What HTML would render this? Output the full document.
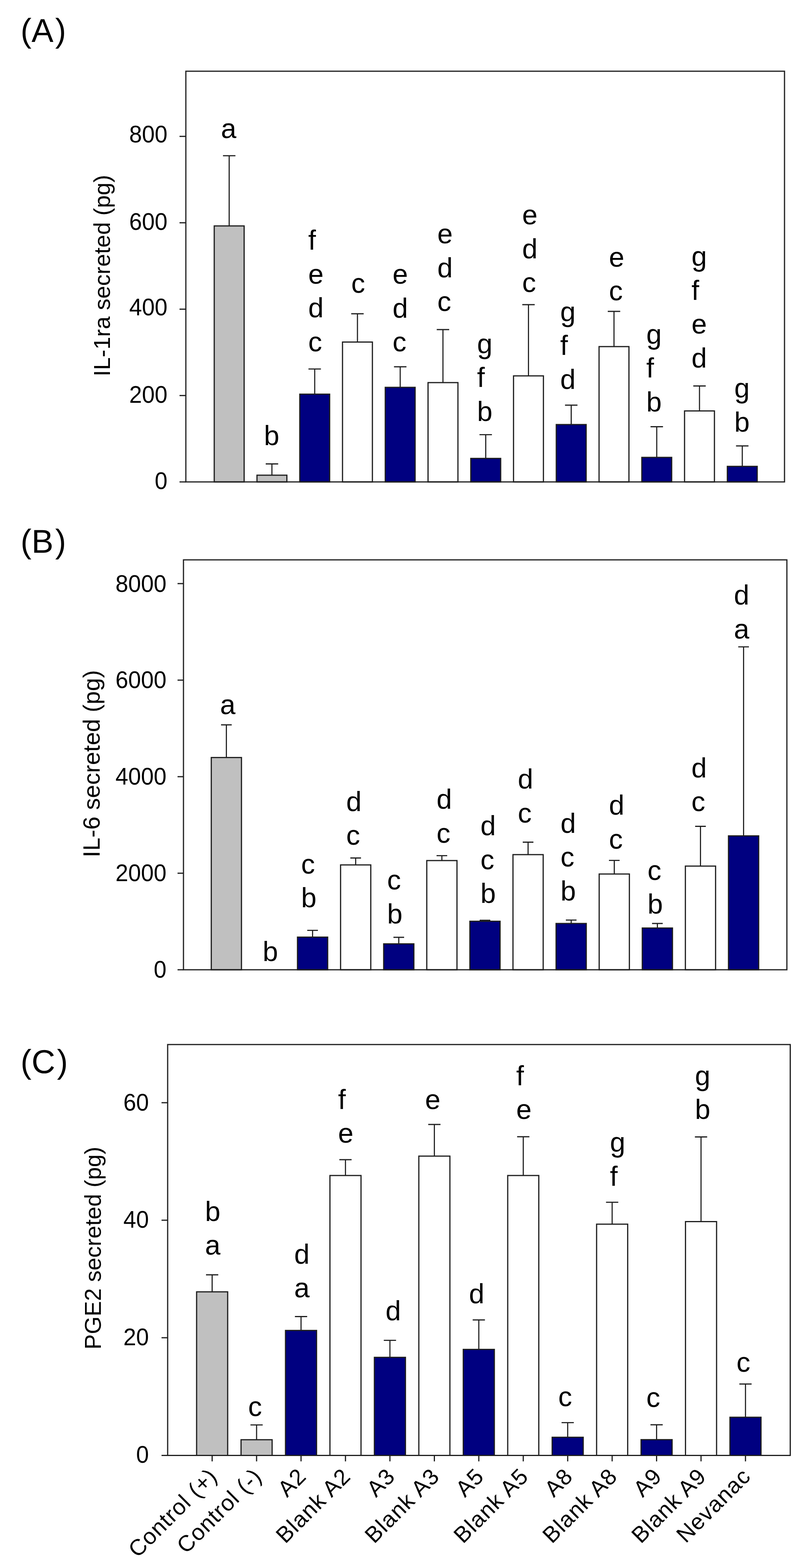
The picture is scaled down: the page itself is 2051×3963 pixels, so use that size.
<!DOCTYPE html>
<html><head><meta charset="utf-8"><title>Figure</title><style>
html,body{margin:0;padding:0;background:#fff;}
svg{display:block;}
text{font-family:"Liberation Sans",Arial,Helvetica,sans-serif;fill:#000;}
.l{font-size:70px;}
.t{font-size:58px;text-anchor:end;}
.yt{font-size:58px;}
.p{font-size:83px;}
.x{font-size:57px;text-anchor:end;letter-spacing:1.7px;}
</style></head><body>
<svg width="2051" height="3963" viewBox="0 0 2051 3963">
<rect width="2051" height="3963" fill="#fff"/>
<rect x="541.8" y="571" width="75.6" height="647" fill="#c0c0c0" stroke="#1e1e1e" stroke-width="3"/>
<path d="M579.6 571V393.6M563.9 393.6H595.4" stroke="#1e1e1e" stroke-width="2.8" fill="none"/>
<text x="558.8" y="348.5" class="l">a</text>
<rect x="649.9" y="1201" width="75.6" height="17" fill="#c0c0c0" stroke="#1e1e1e" stroke-width="3"/>
<path d="M687.7 1201V1172.5M672 1172.5H703.5" stroke="#1e1e1e" stroke-width="2.8" fill="none"/>
<text x="667.4" y="1124.5" class="l">b</text>
<rect x="758.1" y="996.2" width="75.6" height="221.8" fill="#000080" stroke="#1e1e1e" stroke-width="3"/>
<path d="M795.9 996.2V932.6M780.1 932.6H811.6" stroke="#1e1e1e" stroke-width="2.8" fill="none"/>
<text x="779.4" y="631.2" class="l">f</text>
<text x="779.4" y="716.7" class="l">e</text>
<text x="779.4" y="802.2" class="l">d</text>
<text x="779.4" y="887.7" class="l">c</text>
<rect x="866.2" y="864.5" width="75.6" height="353.5" fill="#ffffff" stroke="#1e1e1e" stroke-width="3"/>
<path d="M904 864.5V793M888.2 793H919.7" stroke="#1e1e1e" stroke-width="2.8" fill="none"/>
<text x="888.2" y="739.7" class="l">c</text>
<rect x="974.3" y="979" width="75.6" height="239" fill="#000080" stroke="#1e1e1e" stroke-width="3"/>
<path d="M1012.1 979V927M996.4 927H1027.9" stroke="#1e1e1e" stroke-width="2.8" fill="none"/>
<text x="992.7" y="717.2" class="l">e</text>
<text x="992.7" y="802.7" class="l">d</text>
<text x="992.7" y="888.2" class="l">c</text>
<rect x="1082.5" y="967" width="75.6" height="251" fill="#ffffff" stroke="#1e1e1e" stroke-width="3"/>
<path d="M1120.2 967V833M1104.5 833H1136" stroke="#1e1e1e" stroke-width="2.8" fill="none"/>
<text x="1106" y="615.2" class="l">e</text>
<text x="1106" y="700.7" class="l">d</text>
<text x="1106" y="786.2" class="l">c</text>
<rect x="1190.6" y="1158.6" width="75.6" height="59.4" fill="#000080" stroke="#1e1e1e" stroke-width="3"/>
<path d="M1228.4 1158.6V1098.6M1212.6 1098.6H1244.1" stroke="#1e1e1e" stroke-width="2.8" fill="none"/>
<text x="1206.5" y="892.7" class="l">g</text>
<text x="1206.5" y="978.2" class="l">f</text>
<text x="1206.5" y="1063.7" class="l">b</text>
<rect x="1298.7" y="950" width="75.6" height="268" fill="#ffffff" stroke="#1e1e1e" stroke-width="3"/>
<path d="M1336.5 950V770M1320.8 770H1352.3" stroke="#1e1e1e" stroke-width="2.8" fill="none"/>
<text x="1320.6" y="567.2" class="l">e</text>
<text x="1320.6" y="652.7" class="l">d</text>
<text x="1320.6" y="738.2" class="l">c</text>
<rect x="1406.8" y="1073" width="75.6" height="145" fill="#000080" stroke="#1e1e1e" stroke-width="3"/>
<path d="M1444.6 1073V1024M1428.9 1024H1460.4" stroke="#1e1e1e" stroke-width="2.8" fill="none"/>
<text x="1416.7" y="811.7" class="l">g</text>
<text x="1416.7" y="897.2" class="l">f</text>
<text x="1416.7" y="982.7" class="l">d</text>
<rect x="1515" y="876" width="75.6" height="342" fill="#ffffff" stroke="#1e1e1e" stroke-width="3"/>
<path d="M1552.8 876V787M1537 787H1568.5" stroke="#1e1e1e" stroke-width="2.8" fill="none"/>
<text x="1540" y="673.7" class="l">e</text>
<text x="1540" y="759.2" class="l">c</text>
<rect x="1623.1" y="1156" width="75.6" height="62" fill="#000080" stroke="#1e1e1e" stroke-width="3"/>
<path d="M1660.9 1156V1078.5M1645.2 1078.5H1676.7" stroke="#1e1e1e" stroke-width="2.8" fill="none"/>
<text x="1634.6" y="868.7" class="l">g</text>
<text x="1634.6" y="954.2" class="l">f</text>
<text x="1634.6" y="1039.7" class="l">b</text>
<rect x="1731.2" y="1038.6" width="75.6" height="179.4" fill="#ffffff" stroke="#1e1e1e" stroke-width="3"/>
<path d="M1769 1038.6V975.5M1753.3 975.5H1784.8" stroke="#1e1e1e" stroke-width="2.8" fill="none"/>
<text x="1748.7" y="672.2" class="l">g</text>
<text x="1748.7" y="757.7" class="l">f</text>
<text x="1748.7" y="843.2" class="l">e</text>
<text x="1748.7" y="928.7" class="l">d</text>
<rect x="1839.4" y="1178.7" width="75.6" height="39.3" fill="#000080" stroke="#1e1e1e" stroke-width="3"/>
<path d="M1877.2 1178.7V1127M1861.4 1127H1892.9" stroke="#1e1e1e" stroke-width="2.8" fill="none"/>
<text x="1857" y="1005.2" class="l">g</text>
<text x="1857" y="1090.7" class="l">b</text>
<rect x="470" y="180" width="1514" height="1038" fill="none" stroke="#1e1e1e" stroke-width="3"/>
<path d="M454 1218H470" stroke="#1e1e1e" stroke-width="3"/>
<text class="t" transform="matrix(1 0 0 1.06 423.5 1235.5)">0</text>
<path d="M454 999.7H470" stroke="#1e1e1e" stroke-width="3"/>
<text class="t" transform="matrix(1 0 0 1.06 423.5 1018)">200</text>
<path d="M454 781.4H470" stroke="#1e1e1e" stroke-width="3"/>
<text class="t" transform="matrix(1 0 0 1.06 423.5 797)">400</text>
<path d="M454 563H470" stroke="#1e1e1e" stroke-width="3"/>
<text class="t" transform="matrix(1 0 0 1.06 423.5 580.5)">600</text>
<path d="M454 344.7H470" stroke="#1e1e1e" stroke-width="3"/>
<text class="t" transform="matrix(1 0 0 1.06 423.5 359.5)">800</text>
<text x="278" y="951.3" class="yt" style="font-size:58px" transform="rotate(-90 278 951.3)">IL-1ra secreted (pg)</text>
<text x="52" y="106.2" class="p">(A<tspan dx="4.5">)</tspan></text>
<rect x="534.3" y="1914.6" width="76.4" height="536.4" fill="#c0c0c0" stroke="#1e1e1e" stroke-width="3"/>
<path d="M572.5 1914.6V1832M559 1832H586" stroke="#1e1e1e" stroke-width="2.8" fill="none"/>
<text x="556.4" y="1804.5" class="l">a</text>
<text x="664.2" y="2429" class="l">b</text>
<rect x="752.3" y="2368.5" width="76.4" height="82.5" fill="#000080" stroke="#1e1e1e" stroke-width="3"/>
<path d="M790.5 2368.5V2351.4M777 2351.4H804" stroke="#1e1e1e" stroke-width="2.8" fill="none"/>
<text x="761.5" y="2207.6" class="l">c</text>
<text x="761.5" y="2293.1" class="l">b</text>
<rect x="861.3" y="2186" width="76.4" height="265" fill="#ffffff" stroke="#1e1e1e" stroke-width="3"/>
<path d="M899.5 2186V2168.5M886 2168.5H913" stroke="#1e1e1e" stroke-width="2.8" fill="none"/>
<text x="875.5" y="2049.6" class="l">d</text>
<text x="875.5" y="2135.1" class="l">c</text>
<rect x="970.3" y="2385.5" width="76.4" height="65.5" fill="#000080" stroke="#1e1e1e" stroke-width="3"/>
<path d="M1008.5 2385.5V2369M995 2369H1022" stroke="#1e1e1e" stroke-width="2.8" fill="none"/>
<text x="979" y="2248.1" class="l">c</text>
<text x="979" y="2333.6" class="l">b</text>
<rect x="1079.3" y="2175" width="76.4" height="276" fill="#ffffff" stroke="#1e1e1e" stroke-width="3"/>
<path d="M1117.5 2175V2162.7M1104 2162.7H1131" stroke="#1e1e1e" stroke-width="2.8" fill="none"/>
<text x="1104" y="2044.1" class="l">d</text>
<text x="1104" y="2129.6" class="l">c</text>
<rect x="1188.3" y="2328.4" width="76.4" height="122.6" fill="#000080" stroke="#1e1e1e" stroke-width="3"/>
<path d="M1226.5 2328.4V2326M1213 2326H1240" stroke="#1e1e1e" stroke-width="2.8" fill="none"/>
<text x="1215" y="2111.1" class="l">d</text>
<text x="1215" y="2196.6" class="l">c</text>
<text x="1215" y="2282.1" class="l">b</text>
<rect x="1297.3" y="2160" width="76.4" height="291" fill="#ffffff" stroke="#1e1e1e" stroke-width="3"/>
<path d="M1335.5 2160V2128.5M1322 2128.5H1349" stroke="#1e1e1e" stroke-width="2.8" fill="none"/>
<text x="1309.6" y="1993.1" class="l">d</text>
<text x="1309.6" y="2078.6" class="l">c</text>
<rect x="1406.3" y="2334" width="76.4" height="117" fill="#000080" stroke="#1e1e1e" stroke-width="3"/>
<path d="M1444.5 2334V2325.4M1431 2325.4H1458" stroke="#1e1e1e" stroke-width="2.8" fill="none"/>
<text x="1417.6" y="2104.6" class="l">d</text>
<text x="1417.6" y="2190.1" class="l">c</text>
<text x="1417.6" y="2275.6" class="l">b</text>
<rect x="1515.3" y="2209" width="76.4" height="242" fill="#ffffff" stroke="#1e1e1e" stroke-width="3"/>
<path d="M1553.5 2209V2174.7M1540 2174.7H1567" stroke="#1e1e1e" stroke-width="2.8" fill="none"/>
<text x="1540" y="2059.1" class="l">d</text>
<text x="1540" y="2144.6" class="l">c</text>
<rect x="1624.3" y="2345.5" width="76.4" height="105.5" fill="#000080" stroke="#1e1e1e" stroke-width="3"/>
<path d="M1662.5 2345.5V2334M1649 2334H1676" stroke="#1e1e1e" stroke-width="2.8" fill="none"/>
<text x="1637.5" y="2223.6" class="l">c</text>
<text x="1637.5" y="2309.1" class="l">b</text>
<rect x="1733.3" y="2189" width="76.4" height="262" fill="#ffffff" stroke="#1e1e1e" stroke-width="3"/>
<path d="M1771.5 2189V2088.5M1758 2088.5H1785" stroke="#1e1e1e" stroke-width="2.8" fill="none"/>
<text x="1748.6" y="1964.6" class="l">d</text>
<text x="1748.6" y="2050.1" class="l">c</text>
<rect x="1842.3" y="2112.6" width="76.4" height="338.4" fill="#000080" stroke="#1e1e1e" stroke-width="3"/>
<path d="M1880.5 2112.6V1634.8M1867 1634.8H1894" stroke="#1e1e1e" stroke-width="2.8" fill="none"/>
<text x="1856" y="1528.1" class="l">d</text>
<text x="1856" y="1613.6" class="l">a</text>
<rect x="464" y="1415" width="1526" height="1036" fill="none" stroke="#1e1e1e" stroke-width="3"/>
<path d="M449 2451H464" stroke="#1e1e1e" stroke-width="3"/>
<text class="t" transform="matrix(1 0 0 1.06 421 2471)">0</text>
<path d="M449 2207H464" stroke="#1e1e1e" stroke-width="3"/>
<text class="t" transform="matrix(1 0 0 1.06 421 2227)">2000</text>
<path d="M449 1963H464" stroke="#1e1e1e" stroke-width="3"/>
<text class="t" transform="matrix(1 0 0 1.06 421 1983)">4000</text>
<path d="M449 1719H464" stroke="#1e1e1e" stroke-width="3"/>
<text class="t" transform="matrix(1 0 0 1.06 421 1739)">6000</text>
<path d="M449 1475H464" stroke="#1e1e1e" stroke-width="3"/>
<text class="t" transform="matrix(1 0 0 1.06 421 1495.5)">8000</text>
<text x="252.3" y="2167" class="yt" style="font-size:60px" transform="rotate(-90 252.3 2167)">IL-6 secreted (pg)</text>
<text x="52" y="1396.8" class="p">(B<tspan dx="4.5">)</tspan></text>
<rect x="497.2" y="3265" width="78.6" height="413.5" fill="#c0c0c0" stroke="#1e1e1e" stroke-width="3"/>
<path d="M536.5 3265V3222M521 3222H552" stroke="#1e1e1e" stroke-width="2.8" fill="none"/>
<text x="518.6" y="3085.5" class="l">b</text>
<text x="518.6" y="3171" class="l">a</text>
<rect x="609.6" y="3638.8" width="78.6" height="39.7" fill="#c0c0c0" stroke="#1e1e1e" stroke-width="3"/>
<path d="M648.9 3638.8V3601.3M633.4 3601.3H664.4" stroke="#1e1e1e" stroke-width="2.8" fill="none"/>
<text x="627.6" y="3579" class="l">c</text>
<rect x="722" y="3362.6" width="78.6" height="315.9" fill="#000080" stroke="#1e1e1e" stroke-width="3"/>
<path d="M761.3 3362.6V3327.5M745.8 3327.5H776.8" stroke="#1e1e1e" stroke-width="2.8" fill="none"/>
<text x="744" y="3193.5" class="l">d</text>
<text x="744" y="3279" class="l">a</text>
<rect x="834.4" y="2971" width="78.6" height="707.5" fill="#ffffff" stroke="#1e1e1e" stroke-width="3"/>
<path d="M873.7 2971V2931M858.2 2931H889.2" stroke="#1e1e1e" stroke-width="2.8" fill="none"/>
<text x="855" y="2802.5" class="l">f</text>
<text x="855" y="2888" class="l">e</text>
<rect x="946.8" y="3430.6" width="78.6" height="247.9" fill="#000080" stroke="#1e1e1e" stroke-width="3"/>
<path d="M986.1 3430.6V3387.7M970.6 3387.7H1001.6" stroke="#1e1e1e" stroke-width="2.8" fill="none"/>
<text x="975" y="3337" class="l">d</text>
<rect x="1059.2" y="2922" width="78.6" height="756.5" fill="#ffffff" stroke="#1e1e1e" stroke-width="3"/>
<path d="M1098.5 2922V2842M1083 2842H1114" stroke="#1e1e1e" stroke-width="2.8" fill="none"/>
<text x="1075" y="2803" class="l">e</text>
<rect x="1171.6" y="3410.5" width="78.6" height="268" fill="#000080" stroke="#1e1e1e" stroke-width="3"/>
<path d="M1210.9 3410.5V3336M1195.4 3336H1226.4" stroke="#1e1e1e" stroke-width="2.8" fill="none"/>
<text x="1186" y="3293.5" class="l">d</text>
<rect x="1284" y="2971" width="78.6" height="707.5" fill="#ffffff" stroke="#1e1e1e" stroke-width="3"/>
<path d="M1323.3 2971V2873M1307.8 2873H1338.8" stroke="#1e1e1e" stroke-width="2.8" fill="none"/>
<text x="1305.4" y="2742.5" class="l">f</text>
<text x="1305.4" y="2828" class="l">e</text>
<rect x="1396.4" y="3632.6" width="78.6" height="45.9" fill="#000080" stroke="#1e1e1e" stroke-width="3"/>
<path d="M1435.7 3632.6V3595.6M1420.2 3595.6H1451.2" stroke="#1e1e1e" stroke-width="2.8" fill="none"/>
<text x="1411.7" y="3553.5" class="l">c</text>
<rect x="1508.8" y="3094" width="78.6" height="584.5" fill="#ffffff" stroke="#1e1e1e" stroke-width="3"/>
<path d="M1548.1 3094V3038.6M1532.6 3038.6H1563.6" stroke="#1e1e1e" stroke-width="2.8" fill="none"/>
<text x="1542.4" y="2911" class="l">g</text>
<text x="1542.4" y="2996.5" class="l">f</text>
<rect x="1621.2" y="3638.6" width="78.6" height="39.9" fill="#000080" stroke="#1e1e1e" stroke-width="3"/>
<path d="M1660.5 3638.6V3601M1645 3601H1676" stroke="#1e1e1e" stroke-width="2.8" fill="none"/>
<text x="1634.5" y="3555.5" class="l">c</text>
<rect x="1733.6" y="3087.5" width="78.6" height="591" fill="#ffffff" stroke="#1e1e1e" stroke-width="3"/>
<path d="M1772.9 3087.5V2873.5M1757.4 2873.5H1788.4" stroke="#1e1e1e" stroke-width="2.8" fill="none"/>
<text x="1757.6" y="2742.5" class="l">g</text>
<text x="1757.6" y="2828" class="l">b</text>
<rect x="1846" y="3582" width="78.6" height="96.5" fill="#000080" stroke="#1e1e1e" stroke-width="3"/>
<path d="M1885.3 3582V3498M1869.8 3498H1900.8" stroke="#1e1e1e" stroke-width="2.8" fill="none"/>
<text x="1862.4" y="3467" class="l">c</text>
<rect x="424" y="2640" width="1574.5" height="1038.5" fill="none" stroke="#1e1e1e" stroke-width="3"/>
<path d="M408.5 3678.5H424" stroke="#1e1e1e" stroke-width="3"/>
<text class="t" transform="matrix(1 0 0 1.06 376.5 3697)">0</text>
<path d="M408.5 3381H424" stroke="#1e1e1e" stroke-width="3"/>
<text class="t" transform="matrix(1 0 0 1.06 376.5 3400)">20</text>
<path d="M408.5 3084H424" stroke="#1e1e1e" stroke-width="3"/>
<text class="t" transform="matrix(1 0 0 1.06 376.5 3103)">40</text>
<path d="M408.5 2787H424" stroke="#1e1e1e" stroke-width="3"/>
<text class="t" transform="matrix(1 0 0 1.06 376.5 2807)">60</text>
<text x="255" y="3410.8" class="yt" style="font-size:58px" transform="rotate(-90 255 3410.8)">PGE2 secreted (pg)</text>
<text x="52" y="2712.3" class="p">(C<tspan dx="4.5">)</tspan></text>
<path d="M536.5 3678.5V3693.5" stroke="#1e1e1e" stroke-width="3"/>
<text x="553" y="3734.5" class="x" transform="rotate(-45 553 3734.5)">Control (+)</text>
<path d="M648.9 3678.5V3693.5" stroke="#1e1e1e" stroke-width="3"/>
<text x="665.4" y="3734.5" class="x" transform="rotate(-45 665.4 3734.5)">Control (-)</text>
<path d="M761.3 3678.5V3693.5" stroke="#1e1e1e" stroke-width="3"/>
<text x="777.8" y="3734.5" class="x" transform="rotate(-45 777.8 3734.5)">A2</text>
<path d="M873.7 3678.5V3693.5" stroke="#1e1e1e" stroke-width="3"/>
<text x="890.2" y="3734.5" class="x" transform="rotate(-45 890.2 3734.5)">Blank A2</text>
<path d="M986.1 3678.5V3693.5" stroke="#1e1e1e" stroke-width="3"/>
<text x="1002.6" y="3734.5" class="x" transform="rotate(-45 1002.6 3734.5)">A3</text>
<path d="M1098.5 3678.5V3693.5" stroke="#1e1e1e" stroke-width="3"/>
<text x="1115" y="3734.5" class="x" transform="rotate(-45 1115 3734.5)">Blank A3</text>
<path d="M1210.9 3678.5V3693.5" stroke="#1e1e1e" stroke-width="3"/>
<text x="1227.4" y="3734.5" class="x" transform="rotate(-45 1227.4 3734.5)">A5</text>
<path d="M1323.3 3678.5V3693.5" stroke="#1e1e1e" stroke-width="3"/>
<text x="1339.8" y="3734.5" class="x" transform="rotate(-45 1339.8 3734.5)">Blank A5</text>
<path d="M1435.7 3678.5V3693.5" stroke="#1e1e1e" stroke-width="3"/>
<text x="1452.2" y="3734.5" class="x" transform="rotate(-45 1452.2 3734.5)">A8</text>
<path d="M1548.1 3678.5V3693.5" stroke="#1e1e1e" stroke-width="3"/>
<text x="1564.6" y="3734.5" class="x" transform="rotate(-45 1564.6 3734.5)">Blank A8</text>
<path d="M1660.5 3678.5V3693.5" stroke="#1e1e1e" stroke-width="3"/>
<text x="1677" y="3734.5" class="x" transform="rotate(-45 1677 3734.5)">A9</text>
<path d="M1772.9 3678.5V3693.5" stroke="#1e1e1e" stroke-width="3"/>
<text x="1789.4" y="3734.5" class="x" transform="rotate(-45 1789.4 3734.5)">Blank A9</text>
<path d="M1885.3 3678.5V3693.5" stroke="#1e1e1e" stroke-width="3"/>
<text x="1901.8" y="3734.5" class="x" transform="rotate(-45 1901.8 3734.5)">Nevanac</text>
</svg></body></html>
